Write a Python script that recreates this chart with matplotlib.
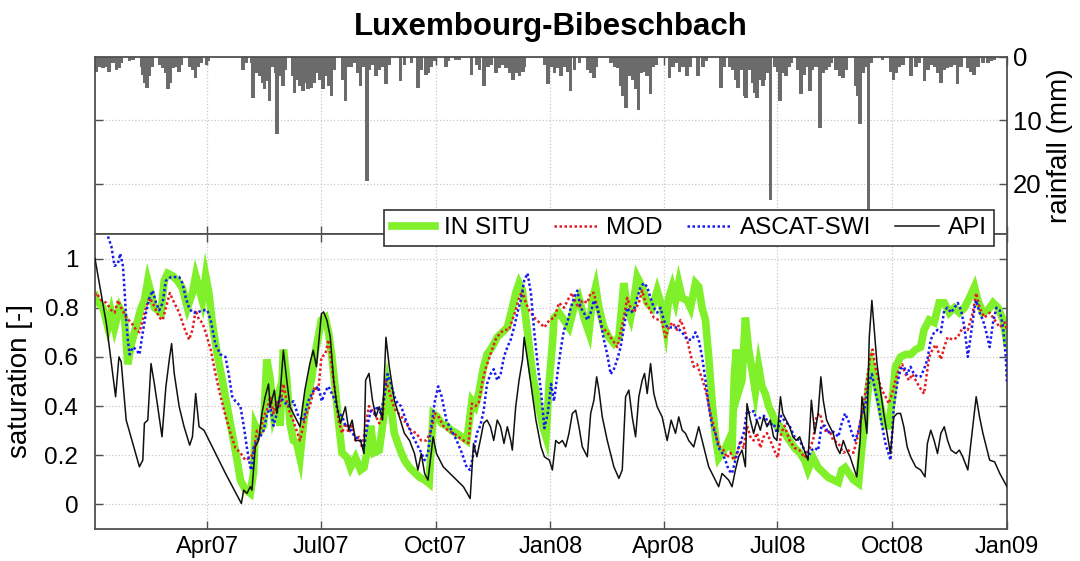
import matplotlib
matplotlib.use("Agg")
import matplotlib.pyplot as plt
import matplotlib.dates as mdates
import pandas as pd
import numpy as np

plt.rcParams['font.family'] = ['Liberation Sans', 'DejaVu Sans']

title = "Luxembourg-Bibeschbach"
start = "2007-01-01"
end = "2009-01-01"
tick_dates = ["2007-04-01", "2007-07-01", "2007-10-01", "2008-01-01",
              "2008-04-01", "2008-07-01", "2008-10-01", "2009-01-01"]
sat_ticks = [0, 0.2, 0.4, 0.6, 0.8, 1.0]
sat_ticklabels = ["0", "0.2", "0.4", "0.6", "0.8", "1"]
rain_ticks = [0, 10, 20]

# days since 2007-01-01
rain_day = [1.1, 3.7, 6.4, 9.1, 11.2, 14.4, 17.1, 19.8, 21.1, 27.8, 30.4, 37.1, 38.5, 39.8, 41.7, 43.8, 45.9,
            51.8, 54.5, 56.6, 58.5, 60.4, 62.5, 65.2, 67.3, 69.2, 75.9, 78.5, 80.4, 82.5, 85.2, 89.2, 90.5,
            118.6, 121.3, 125.3, 126.6, 129.3, 131.9, 134.6, 135.9, 137.8, 140.0, 142.6, 144.8, 145.8, 148.0,
            149.3, 150.6, 152.8, 158.7, 160.0, 161.9, 164.0, 166.7, 168.8, 170.7, 173.3, 176.0, 177.9, 180.0,
            182.7, 185.4, 187.5, 189.4, 192.0, 198.7, 200.9, 202.7, 205.4, 208.1, 210.7, 212.9, 214.7, 217.9,
            220.1, 222.8, 225.4, 228.1, 230.8, 233.4, 236.1, 245.0, 248.1, 253.5, 258.8, 261.5, 265.5, 266.8,
            269.5, 272.2, 281.5, 282.9, 289.5, 292.2, 301.6, 305.6, 308.2, 311.7, 314.9, 317.6, 321.6, 324.3,
            326.9, 329.6, 332.3, 335.0, 337.6, 340.3, 343.0, 344.3, 360.3, 363.0, 365.7, 368.3, 371.0, 373.7,
            376.3, 379.0, 381.2, 384.4, 388.4, 395.0, 397.2, 399.9, 401.7, 413.7, 416.4, 419.1, 421.2, 423.1,
            425.8, 428.4, 431.1, 433.8, 435.6, 437.8, 440.4, 442.6, 445.3, 447.1, 449.8, 460.5, 463.2, 465.8,
            468.5, 471.2, 474.6, 477.3, 483.2, 487.2, 489.9, 501.9, 504.6, 508.6, 511.2, 513.9, 515.2, 517.9,
            520.6, 521.9, 524.6, 527.3, 528.6, 530.5, 532.6, 535.3, 536.6, 539.3, 541.4, 544.6, 547.3, 549.2,
            551.3, 554.0, 556.1, 558.0, 563.3, 566.0, 568.7, 571.3, 573.2, 575.3, 578.0, 581.2, 583.4, 586.0,
            588.2, 590.0, 594.0, 596.7, 599.4, 602.0, 610.1, 611.4, 613.3, 615.4, 618.1, 620.0, 622.1, 631.4,
            638.1, 640.0, 642.1, 644.8, 647.5, 654.1, 658.1, 660.8, 664.8, 667.5, 670.2, 672.8, 675.5, 678.2,
            680.8, 683.5, 686.2, 688.9, 691.5, 694.2, 699.5, 702.2, 704.4, 707.6, 711.6, 715.6, 718.2, 720.9]
rain_mm = [2.3, 1.5, 1.7, 1.5, 2.3, 0.9, 2.0, 1.7, 0.9, 0.7, 0.4, 1.5, 2.8, 4.1, 4.9, 3.0, 1.5,
           1.2, 1.7, 2.5, 5.1, 4.1, 1.7, 1.5, 2.3, 1.2, 1.5, 2.0, 3.3, 1.5, 0.9, 1.2, 0.7,
           2.0, 0.9, 0.9, 6.4, 2.5, 3.0, 4.1, 5.1, 3.8, 7.0, 1.5, 2.5, 12.2, 3.0,
           1.5, 4.6, 2.0, 3.0, 5.65, 3.6, 4.6, 5.4, 4.1, 5.1, 4.9, 4.1, 2.5, 3.6,
           5.1, 3.0, 4.6, 6.2, 2.0, 3.6, 7.0, 1.5, 1.5, 0.9, 2.5, 4.6, 1.5, 19.5,
           2.0, 1.2, 3.0, 2.0, 1.5, 4.3, 1.2, 3.8, 1.2, 0.9, 4.9, 2.0, 2.8, 2.5,
           1.5, 0.7, 1.5, 0.7, 0.4, 0.4, 2.8, 1.2, 2.0, 4.6, 1.5, 1.2, 2.5, 1.7,
           1.2, 1.7, 2.5, 3.6, 2.5, 3.0, 2.3, 1.5, 1.2, 4.3, 1.5, 2.5, 1.7, 3.0,
           1.5, 2.3, 5.4, 2.0, 0.9, 2.0, 2.5, 3.3, 1.5, 0.9, 1.5, 1.7, 4.6, 6.2,
           8.0, 3.0, 3.6, 5.1, 8.3, 2.5, 2.3, 3.0, 5.9, 1.5, 1.2, 3.3, 1.5, 0.9,
           2.3, 1.5, 3.0, 1.5, 3.0, 1.5, 0.7, 4.9, 1.5, 1.5, 2.0, 3.6, 4.9, 2.0,
           6.2, 6.4, 2.0, 4.1, 5.65, 6.4, 3.6, 4.6, 3.6, 2.5, 22.6, 1.5, 2.3, 7.0,
           2.5, 3.0, 1.5, 0.9, 2.0, 5.9, 2.8, 1.5, 5.4, 2.0, 1.5, 11.2, 2.5, 2.0,
           1.5, 0.9, 2.0, 3.0, 3.3, 2.0, 4.6, 6.2, 10.6, 2.5, 1.5, 27.0, 0.9, 0.4,
           2.3, 3.6, 2.5, 1.5, 1.2, 3.0, 1.5, 0.9, 3.8, 2.0, 1.2, 1.5, 2.5, 4.1,
           2.0, 1.7, 1.5, 1.2, 4.3, 1.5, 1.7, 2.3, 2.8, 1.5, 0.9, 0.9, 0.7, 0.4]

insitu_day = [0.0, 1.1, 6.4, 10.4, 13.1, 15.7, 19.7, 23.7, 26.3, 29.0, 31.6, 34.3, 37.0, 39.6, 42.3, 44.9, 47.6,
              50.2, 52.9, 55.5, 58.2, 62.1, 66.1, 70.1, 74.1, 78.1, 80.7, 83.4, 86.0, 88.7, 91.3, 94.0, 98.0,
              101.9, 105.9, 109.9, 113.9, 116.5, 120.5, 124.5, 127.1, 128.5, 131.1, 135.1, 137.7, 140.4, 143.1,
              145.7, 148.4, 151.0, 153.7, 156.3, 159.0, 161.6, 164.3, 166.9, 169.6, 173.6, 176.2, 178.9, 181.5,
              184.5, 187.2, 189.9, 192.6, 195.3, 198.0, 202.1, 204.8, 208.8, 212.9, 215.6, 218.3, 221.0, 223.7,
              227.8, 231.8, 234.5, 237.2, 239.9, 244.0, 248.0, 252.1, 256.1, 260.2, 264.2, 267.8, 271.0, 273.7,
              277.8, 281.8, 285.9, 289.9, 294.0, 298.0, 302.1, 304.8, 307.5, 311.5, 314.2, 318.3, 322.4, 326.4,
              330.5, 334.5, 337.2, 339.9, 342.6, 346.7, 350.7, 354.8, 358.8, 361.5, 364.2, 366.9, 367.9, 371.9,
              375.9, 379.9, 383.9, 387.9, 391.9, 395.9, 398.6, 401.3, 403.9, 407.9, 411.9, 415.9, 419.9, 423.9,
              426.6, 429.3, 431.9, 434.6, 438.6, 442.6, 446.6, 450.6, 454.6, 457.3, 459.9, 462.6, 465.3, 467.9,
              470.6, 474.6, 477.3, 481.3, 483.9, 486.6, 489.3, 491.9, 494.6, 497.3, 499.9, 502.6, 505.3, 507.9,
              510.6, 512.5, 514.1, 515.9, 518.6, 521.3, 523.9, 526.6, 529.3, 531.9, 534.6, 537.3, 539.9, 542.6,
              546.6, 548.6, 552.7, 556.7, 560.7, 564.8, 568.8, 571.5, 575.6, 579.6, 583.7, 587.7, 591.7, 595.8,
              598.5, 601.2, 603.9, 607.9, 612.0, 614.7, 616.8, 620.0, 622.7, 625.4, 628.1, 630.8, 633.5, 636.2,
              638.9, 641.6, 645.7, 649.7, 653.7, 657.8, 661.8, 664.5, 668.6, 672.6, 676.6, 680.7, 684.7, 688.8,
              692.8, 696.9, 700.9, 704.9, 707.6, 711.7, 715.7, 719.8, 723.8, 727.9, 731.0]
insitu_val = [0.85, 0.83, 0.80, 0.72, 0.78, 0.72, 0.80, 0.76, 0.57, 0.65, 0.70, 0.75, 0.80, 0.83, 0.91, 0.86, 0.80,
              0.79, 0.78, 0.91, 0.94, 0.93, 0.91, 0.88, 0.80, 0.86, 0.93, 0.88, 0.83, 0.93, 0.86, 0.74, 0.61,
              0.51, 0.40, 0.29, 0.18, 0.10, 0.06, 0.045, 0.13, 0.32, 0.29, 0.32, 0.59, 0.51, 0.37,
              0.42, 0.32, 0.63, 0.51, 0.33, 0.26, 0.25, 0.19, 0.32, 0.42, 0.51, 0.61, 0.68, 0.75,
              0.76, 0.70, 0.60, 0.47, 0.33, 0.21, 0.19, 0.15, 0.19, 0.14, 0.15, 0.22, 0.32, 0.21,
              0.22, 0.37, 0.48, 0.40, 0.29, 0.23, 0.18, 0.15, 0.13, 0.11, 0.10, 0.085, 0.37, 0.36,
              0.33, 0.32, 0.30, 0.29, 0.275, 0.26, 0.42, 0.40, 0.45, 0.56, 0.61, 0.64, 0.68, 0.70,
              0.72, 0.80, 0.86, 0.90, 0.87, 0.70, 0.53, 0.42, 0.32, 0.275, 0.505, 0.67, 0.76, 0.78,
              0.75, 0.72, 0.80, 0.84, 0.76, 0.70, 0.83, 0.885, 0.80, 0.72, 0.68, 0.655, 0.68, 0.90,
              0.80, 0.76, 0.83, 0.925, 0.885, 0.82, 0.80, 0.87, 0.80, 0.72, 0.84, 0.885, 0.83, 0.90,
              0.84, 0.83, 0.80, 0.90, 0.885, 0.80, 0.75, 0.60, 0.42, 0.275, 0.19, 0.21, 0.23, 0.26,
              0.23, 0.53, 0.63, 0.46, 0.505, 0.76, 0.63, 0.55, 0.46, 0.56, 0.48, 0.45, 0.40, 0.37,
              0.32, 0.32, 0.29, 0.26, 0.23, 0.21, 0.18, 0.14, 0.19, 0.15, 0.13, 0.11, 0.10, 0.09,
              0.14, 0.15, 0.13, 0.10, 0.085, 0.23, 0.32, 0.48, 0.56, 0.505, 0.44, 0.37, 0.32, 0.32,
              0.42, 0.56, 0.60, 0.61, 0.61, 0.63, 0.64, 0.71, 0.75, 0.74, 0.82, 0.82, 0.78, 0.80,
              0.78, 0.80, 0.84, 0.885, 0.83, 0.78, 0.79, 0.82, 0.80, 0.75, 0.655]

mod_day = [0.0, 1.1, 5.1, 9.1, 13.1, 15.7, 18.4, 21.0, 25.0, 29.0, 33.0, 35.6, 38.3, 40.9, 43.6, 46.2, 48.9,
           51.5, 54.2, 56.8, 60.0, 63.5, 67.5, 71.4, 75.4, 78.1, 80.7, 83.4, 86.0, 88.7, 92.7, 96.6, 100.6,
           104.6, 108.6, 112.5, 116.5, 120.5, 124.5, 127.1, 129.8, 132.4, 135.1, 137.7, 140.4, 143.1, 145.7,
           148.4, 151.0, 153.7, 156.3, 159.0, 161.6, 164.3, 166.9, 169.6, 172.2, 176.2, 178.9, 181.5, 184.5,
           187.2, 189.9, 192.6, 195.3, 198.0, 200.7, 203.4, 206.1, 208.8, 211.5, 214.2, 216.9, 219.6, 222.4,
           225.1, 227.8, 230.5, 233.2, 235.9, 238.6, 241.3, 245.3, 249.4, 253.4, 257.5, 261.5, 265.6, 269.6,
           272.4, 275.1, 279.1, 283.2, 287.2, 291.3, 295.3, 299.4, 302.1, 304.8, 307.5, 310.2, 312.9, 315.6,
           318.3, 321.0, 325.1, 329.1, 331.8, 334.5, 337.2, 339.9, 342.6, 345.3, 348.0, 352.1, 356.1, 360.2,
           364.2, 368.3, 371.9, 375.9, 379.9, 382.6, 385.3, 387.9, 390.6, 394.6, 397.3, 399.9, 402.6, 406.6,
           410.6, 414.6, 418.6, 421.3, 423.9, 426.6, 429.3, 431.9, 435.9, 438.6, 441.3, 443.9, 447.9, 451.9,
           454.6, 457.3, 459.9, 462.6, 466.6, 469.3, 471.9, 474.6, 477.3, 479.9, 482.6, 485.3, 487.9, 490.6,
           493.3, 495.9, 498.6, 501.3, 503.9, 506.6, 509.3, 511.9, 514.6, 517.3, 519.9, 522.6, 525.3, 527.9,
           530.6, 533.3, 535.9, 538.6, 541.3, 545.3, 547.3, 550.0, 552.7, 556.7, 560.7, 564.8, 568.8, 572.9,
           575.6, 578.3, 581.0, 583.7, 586.4, 589.0, 591.7, 595.8, 599.8, 603.9, 607.9, 610.6, 613.3, 616.0,
           618.7, 621.4, 623.3, 625.4, 628.1, 630.8, 633.5, 636.2, 638.9, 641.6, 644.3, 647.0, 649.7, 652.4,
           655.1, 657.8, 660.5, 664.5, 668.6, 671.3, 674.0, 678.0, 680.7, 683.4, 687.4, 691.5, 695.5, 699.6,
           703.6, 706.3, 709.0, 713.0, 717.1, 721.1, 725.2, 729.2, 731.0]
mod_val = [0.85, 0.86, 0.83, 0.82, 0.79, 0.78, 0.83, 0.80, 0.76, 0.74, 0.71, 0.70, 0.75, 0.80, 0.84, 0.82, 0.79,
           0.76, 0.75, 0.80, 0.86, 0.82, 0.78, 0.72, 0.67, 0.71, 0.79, 0.75, 0.74, 0.70, 0.63, 0.53, 0.44,
           0.36, 0.29, 0.23, 0.21, 0.18, 0.19, 0.21, 0.30, 0.29, 0.36, 0.38, 0.44, 0.37, 0.42,
           0.40, 0.49, 0.42, 0.37, 0.34, 0.30, 0.26, 0.32, 0.37, 0.40, 0.48, 0.46, 0.60, 0.61,
           0.67, 0.56, 0.45, 0.34, 0.29, 0.33, 0.29, 0.32, 0.26, 0.275, 0.23, 0.32, 0.40, 0.38,
           0.36, 0.33, 0.36, 0.505, 0.46, 0.41, 0.38, 0.36, 0.33, 0.30, 0.29, 0.26, 0.26, 0.30,
           0.37, 0.36, 0.32, 0.30, 0.29, 0.275, 0.26, 0.25, 0.41, 0.40, 0.41, 0.49, 0.55, 0.59,
           0.63, 0.67, 0.70, 0.71, 0.71, 0.75, 0.79, 0.84, 0.87, 0.82, 0.79, 0.76, 0.74, 0.72,
           0.75, 0.76, 0.82, 0.80, 0.84, 0.86, 0.82, 0.80, 0.83, 0.82, 0.86, 0.86, 0.80, 0.72,
           0.70, 0.67, 0.64, 0.70, 0.76, 0.84, 0.80, 0.78, 0.82, 0.87, 0.82, 0.80, 0.76, 0.75,
           0.74, 0.68, 0.72, 0.74, 0.71, 0.75, 0.72, 0.67, 0.61, 0.56, 0.57, 0.53, 0.49, 0.44,
           0.37, 0.32, 0.26, 0.23, 0.22, 0.19, 0.21, 0.18, 0.21, 0.26, 0.23, 0.32, 0.275, 0.26,
           0.29, 0.23, 0.275, 0.29, 0.26, 0.21, 0.19, 0.29, 0.32, 0.26, 0.23, 0.22, 0.19, 0.23,
           0.26, 0.36, 0.37, 0.32, 0.29, 0.30, 0.26, 0.25, 0.21, 0.22, 0.21, 0.26, 0.33, 0.40,
           0.505, 0.60, 0.63, 0.56, 0.505, 0.465, 0.44, 0.41, 0.45, 0.505, 0.55, 0.57, 0.53, 0.505,
           0.53, 0.505, 0.48, 0.45, 0.60, 0.63, 0.65, 0.59, 0.64, 0.68, 0.67, 0.68, 0.72, 0.71,
           0.78, 0.86, 0.80, 0.76, 0.78, 0.75, 0.72, 0.74, 0.71]

ascat_day = [10.4, 13.1, 15.7, 18.4, 20.2, 22.4, 23.7, 25.0, 26.3, 27.7, 30.3, 33.0, 35.6, 38.3, 40.9, 43.6, 46.2,
             48.9, 51.5, 54.2, 56.8, 60.8, 64.8, 67.5, 70.1, 72.8, 75.4, 78.1, 82.0, 86.0, 90.0, 92.7, 96.6,
             100.6, 104.6, 107.2, 109.9, 112.5, 116.5, 119.2, 121.8, 124.5, 125.8, 127.1, 129.8, 132.4, 135.1,
             137.7, 140.4, 143.1, 145.7, 148.4, 151.0, 155.0, 159.0, 162.9, 166.9, 170.9, 174.9, 178.9, 181.8,
             184.5, 187.2, 189.9, 192.6, 195.3, 198.0, 200.7, 203.4, 206.1, 208.8, 212.9, 215.6, 218.3, 221.0,
             223.7, 226.4, 229.1, 231.8, 234.5, 237.2, 239.9, 242.6, 245.3, 249.4, 253.4, 257.5, 261.5, 264.2,
             266.9, 269.6, 272.4, 275.1, 277.8, 281.8, 285.9, 289.9, 294.0, 298.0, 300.7, 303.4, 306.1, 308.8,
             311.5, 314.2, 317.0, 319.6, 322.4, 325.1, 327.8, 330.5, 333.2, 335.9, 338.6, 341.3, 344.0, 346.7,
             349.4, 352.1, 354.8, 357.5, 360.2, 362.9, 365.6, 367.9, 370.6, 373.3, 375.9, 378.6, 381.3, 383.9,
             386.6, 389.3, 391.9, 394.6, 397.3, 399.9, 402.6, 405.3, 407.9, 410.6, 413.3, 415.9, 418.6, 421.3,
             423.9, 426.6, 429.3, 431.9, 434.6, 437.3, 439.9, 442.6, 445.3, 447.9, 450.6, 453.3, 455.9, 458.6,
             462.6, 466.6, 470.6, 474.6, 478.6, 481.3, 483.9, 486.6, 489.3, 491.9, 494.6, 497.3, 499.9, 502.6,
             505.3, 507.9, 510.6, 513.3, 515.9, 519.9, 522.6, 525.3, 527.9, 530.6, 534.6, 537.3, 539.9, 543.9,
             546.6, 550.0, 552.7, 556.7, 560.7, 564.8, 568.8, 571.5, 574.2, 576.9, 579.6, 582.3, 585.0, 587.7,
             590.4, 593.1, 595.8, 598.5, 601.2, 603.9, 606.6, 609.3, 612.0, 614.7, 617.4, 620.0, 622.7, 625.4,
             628.1, 630.8, 633.5, 637.6, 640.3, 643.0, 645.7, 648.3, 651.0, 653.7, 656.4, 659.1, 661.8, 664.5,
             667.2, 669.9, 672.6, 675.3, 678.0, 680.7, 683.4, 686.1, 688.8, 691.5, 694.2, 696.9, 699.6, 702.3,
             705.0, 706.3, 709.0, 711.7, 714.4, 717.1, 719.8, 722.5, 725.2, 727.9, 730.0, 731.0]
ascat_val = [1.09, 1.05, 0.97, 0.98, 1.02, 0.97, 0.87, 0.75, 0.67, 0.61, 0.64, 0.63, 0.61, 0.70, 0.78, 0.84, 0.87,
             0.82, 0.79, 0.82, 0.91, 0.925, 0.925, 0.925, 0.90, 0.84, 0.80, 0.78, 0.78, 0.79, 0.79, 0.75, 0.65,
             0.61, 0.60, 0.53, 0.44, 0.42, 0.40, 0.32, 0.23, 0.15, 0.14, 0.23, 0.26, 0.275, 0.30,
             0.36, 0.40, 0.32, 0.37, 0.44, 0.42, 0.40, 0.42, 0.36, 0.34, 0.42, 0.46, 0.48, 0.42,
             0.46, 0.48, 0.45, 0.42, 0.37, 0.36, 0.32, 0.32, 0.29, 0.275, 0.26, 0.23, 0.32, 0.38,
             0.37, 0.40, 0.37, 0.44, 0.53, 0.49, 0.44, 0.41, 0.40, 0.34, 0.29, 0.25, 0.21, 0.18,
             0.21, 0.32, 0.42, 0.48, 0.44, 0.34, 0.30, 0.26, 0.21, 0.15, 0.14, 0.21, 0.29, 0.32,
             0.38, 0.49, 0.53, 0.55, 0.505, 0.53, 0.60, 0.64, 0.67, 0.72, 0.78, 0.83, 0.91, 0.94,
             0.86, 0.70, 0.57, 0.46, 0.31, 0.37, 0.49, 0.42, 0.53, 0.63, 0.71, 0.74, 0.80, 0.84,
             0.87, 0.80, 0.78, 0.75, 0.78, 0.83, 0.80, 0.74, 0.67, 0.61, 0.53, 0.55, 0.59, 0.64,
             0.72, 0.80, 0.78, 0.79, 0.84, 0.885, 0.90, 0.885, 0.84, 0.80, 0.78, 0.80, 0.75, 0.72,
             0.72, 0.72, 0.70, 0.67, 0.67, 0.70, 0.67, 0.60, 0.505, 0.40, 0.32, 0.29, 0.23, 0.21,
             0.18, 0.14, 0.126, 0.18, 0.23, 0.29, 0.38, 0.37, 0.38, 0.34, 0.36, 0.36, 0.32, 0.33,
             0.29, 0.36, 0.34, 0.32, 0.275, 0.26, 0.22, 0.19, 0.22, 0.23, 0.22, 0.32, 0.32, 0.29,
             0.30, 0.29, 0.275, 0.33, 0.37, 0.34, 0.29, 0.26, 0.30, 0.37, 0.40, 0.49, 0.53, 0.465,
             0.40, 0.32, 0.25, 0.18, 0.40, 0.49, 0.55, 0.56, 0.53, 0.56, 0.53, 0.52, 0.52, 0.55,
             0.59, 0.67, 0.70, 0.71, 0.70, 0.79, 0.80, 0.78, 0.80, 0.82, 0.79, 0.72, 0.60, 0.70,
             0.80, 0.83, 0.78, 0.75, 0.70, 0.64, 0.74, 0.80, 0.79, 0.72, 0.60, 0.49]

api_day = [0.0, 9.1, 16.5, 19.2, 21.0, 25.0, 35.6, 38.3, 39.6, 42.3, 44.9, 47.6, 50.2, 53.7, 56.8, 59.5, 61.4,
           63.5, 67.5, 71.4, 75.9, 78.1, 80.7, 83.4, 87.3, 90.0, 104.6, 117.3, 119.2, 121.8, 124.5, 125.8, 128.5,
           131.1, 133.8, 136.4, 139.1, 140.4, 143.8, 145.7, 148.4, 151.0, 153.7, 156.3, 160.3, 164.3, 168.2,
           172.2, 174.9, 177.5, 181.5, 183.2, 185.9, 188.6, 191.3, 194.0, 196.7, 200.7, 203.4, 206.1, 208.8,
           212.9, 215.6, 216.9, 219.6, 222.4, 225.1, 227.8, 230.5, 233.2, 235.9, 239.9, 244.0, 248.0, 252.1,
           256.1, 258.8, 261.5, 264.2, 266.9, 271.0, 273.7, 279.1, 284.5, 289.9, 295.3, 300.7, 303.4, 306.1,
           308.8, 311.5, 314.2, 317.0, 319.6, 322.4, 325.1, 327.8, 330.5, 333.2, 334.5, 337.2, 339.9, 342.6,
           344.0, 346.7, 349.4, 353.4, 357.5, 360.2, 364.2, 366.6, 369.3, 371.9, 374.6, 377.3, 379.9, 382.6,
           385.3, 387.9, 390.6, 394.6, 397.3, 399.9, 402.1, 403.9, 406.6, 410.6, 415.9, 419.9, 422.6, 425.3,
           427.9, 430.6, 433.3, 435.9, 438.6, 440.5, 442.6, 445.3, 447.9, 450.6, 454.6, 458.6, 461.8, 465.3,
           467.9, 470.6, 473.3, 475.9, 479.9, 483.9, 487.9, 491.9, 495.9, 499.9, 502.6, 505.3, 507.9, 510.6,
           513.3, 515.9, 518.6, 521.3, 522.6, 525.3, 527.9, 530.6, 533.3, 535.9, 538.6, 541.3, 543.9, 546.6,
           549.4, 551.3, 554.0, 556.7, 559.4, 562.1, 564.8, 567.5, 571.5, 574.2, 576.9, 579.6, 581.8, 583.7,
           586.4, 589.0, 591.7, 594.4, 597.1, 599.8, 602.5, 605.2, 607.9, 610.6, 613.3, 614.7, 616.8, 618.7,
           620.6, 622.7, 624.4, 626.8, 629.5, 632.2, 634.9, 637.6, 640.3, 643.0, 645.7, 648.3, 651.0, 653.7,
           657.8, 661.8, 665.3, 667.2, 669.9, 672.6, 675.3, 678.0, 680.7, 683.4, 686.1, 690.1, 692.8, 695.5,
           699.6, 702.3, 706.3, 709.0, 711.7, 714.4, 717.1, 721.1, 725.2, 731.0]
api_val = [1.0, 0.736, 0.438, 0.60, 0.58, 0.343, 0.153, 0.18, 0.33, 0.343, 0.573, 0.49, 0.40, 0.275, 0.478, 0.587, 0.654,
           0.533, 0.397, 0.316, 0.241, 0.275, 0.451, 0.316, 0.302, 0.275, 0.126, 0.004, 0.058, 0.045, 0.072, 0.058, 0.234,
           0.26, 0.37, 0.438, 0.49, 0.397, 0.465, 0.37, 0.451, 0.627, 0.505, 0.397, 0.356, 0.316, 0.465,
           0.573, 0.627, 0.56, 0.776, 0.783, 0.749, 0.68, 0.505, 0.397, 0.33, 0.397, 0.302, 0.343, 0.26,
           0.26, 0.207, 0.505, 0.533, 0.424, 0.356, 0.397, 0.343, 0.68, 0.56, 0.424, 0.356, 0.289, 0.26,
           0.207, 0.14, 0.207, 0.126, 0.099, 0.275, 0.207, 0.153, 0.126, 0.099, 0.072, 0.024, 0.248, 0.194,
           0.26, 0.33, 0.343, 0.316, 0.26, 0.343, 0.316, 0.248, 0.316, 0.26, 0.221, 0.397, 0.505, 0.587,
           0.68, 0.587, 0.49, 0.343, 0.234, 0.194, 0.18, 0.14, 0.26, 0.248, 0.26, 0.234, 0.289, 0.37,
           0.383, 0.316, 0.234, 0.194, 0.37, 0.424, 0.519, 0.465, 0.356, 0.26, 0.153, 0.106, 0.14, 0.438,
           0.465, 0.356, 0.275, 0.438, 0.505, 0.533, 0.451, 0.573, 0.451, 0.397, 0.356, 0.26, 0.343, 0.289,
           0.356, 0.302, 0.289, 0.26, 0.234, 0.316, 0.234, 0.153, 0.112, 0.072, 0.126, 0.112, 0.099, 0.072,
           0.14, 0.194, 0.221, 0.153, 0.41, 0.343, 0.289, 0.343, 0.302, 0.356, 0.316, 0.343, 0.275, 0.26,
           0.438, 0.37, 0.343, 0.316, 0.275, 0.26, 0.275, 0.234, 0.18, 0.424, 0.289, 0.37, 0.519, 0.424,
           0.343, 0.316, 0.289, 0.234, 0.207, 0.26, 0.221, 0.194, 0.153, 0.112, 0.26, 0.438, 0.37, 0.289,
           0.68, 0.83, 0.722, 0.573, 0.465, 0.37, 0.289, 0.207, 0.356, 0.37, 0.37, 0.316, 0.234, 0.194,
           0.153, 0.14, 0.112, 0.248, 0.302, 0.26, 0.207, 0.289, 0.316, 0.26, 0.221, 0.207, 0.221, 0.194,
           0.14, 0.26, 0.438, 0.356, 0.289, 0.234, 0.18, 0.173, 0.126, 0.072]

t0 = pd.Timestamp(start)
def to_dates(days):
    return t0 + pd.to_timedelta(np.asarray(days, dtype=float), unit="D")

W, H = 1080, 561
fig = plt.figure(figsize=(W / 100, H / 100), dpi=100)
left, right = 95 / W, 1007 / W
ax_r = fig.add_axes([left, 1 - 234 / H, right - left, (234 - 57) / H])
ax = fig.add_axes([left, 1 - 529 / H, right - left, (529 - 234) / H])

spine_c = "#505050"
grid_kw = dict(color="#c8c8c8", linestyle=":", linewidth=0.9)
xlim = (pd.Timestamp(start), pd.Timestamp(end))
ticks = [pd.Timestamp(d) for d in tick_dates]

# rainfall panel
ax_r.bar(to_dates(rain_day), rain_mm, width=2.8, color="#6b6b6b", linewidth=0, align="center")
ax_r.set_xlim(*xlim)
ax_r.set_ylim(27.9, 0)
ax_r.set_yticks(rain_ticks)
ax_r.yaxis.tick_right()
ax_r.yaxis.set_label_position("right")
ax_r.set_ylabel("rainfall (mm)", fontsize=20, labelpad=4)
ax_r.set_xticks(ticks)
ax_r.tick_params(axis="both", direction="in", length=6, left=True, right=True, top=True, bottom=True,
                 labelbottom=False, labelleft=False, labelright=True, labelsize=18.5, color=spine_c,
                 width=1, pad=4)
ax_r.grid(True, **grid_kw)
ax_r.set_axisbelow(True)
ax_r.set_title(title, fontsize=22.5, fontweight="bold", pad=16)

# saturation panel
ax.plot(to_dates(insitu_day), insitu_val, color="#80f02a", linewidth=5.5, solid_joinstyle="miter", label="IN SITU", zorder=2)
ax.plot(to_dates(mod_day), mod_val, color="#e41c24", linewidth=1.8, linestyle=(0, (1, 1)), label="MOD", zorder=3)
ax.plot(to_dates(ascat_day), ascat_val, color="#1a1af0", linewidth=1.8, linestyle=(0, (1, 1)), label="ASCAT-SWI", zorder=4)
ax.plot(to_dates(api_day), api_val, color="#111111", linewidth=1.1, label="API", zorder=5)
ax.set_xlim(*xlim)
ax.set_ylim(-0.1, 1.1)
ax.set_yticks(sat_ticks)
ax.set_yticklabels(sat_ticklabels)
ax.set_xticks(ticks)
ax.xaxis.set_major_formatter(mdates.DateFormatter("%b%y"))
ax.tick_params(axis="x", direction="in", length=6, top=True, bottom=True,
               labelsize=17, color=spine_c, width=1, pad=5)
ax.tick_params(axis="y", direction="in", length=6, left=True, right=True,
               labelsize=17.5, color=spine_c, width=1, pad=12)
ax.set_ylabel("saturation [-]", fontsize=20, labelpad=8)
ax.grid(True, **grid_kw)
ax.set_axisbelow(True)

for a in (ax, ax_r):
    for s in a.spines.values():
        s.set_color(spine_c)
        s.set_linewidth(1.3)

leg = fig.legend(loc="center", bbox_to_anchor=((383 + 995) / 2 / W, 1 - 228 / H), ncol=4,
                 fontsize=17.5, frameon=True, fancybox=False, edgecolor="#333333", framealpha=1,
                 handlelength=1.8, columnspacing=1.0, handletextpad=0.35, borderpad=0.3,
                 borderaxespad=0.2)
leg.get_frame().set_linewidth(1.2)

fig.savefig("out.png", dpi=100)
